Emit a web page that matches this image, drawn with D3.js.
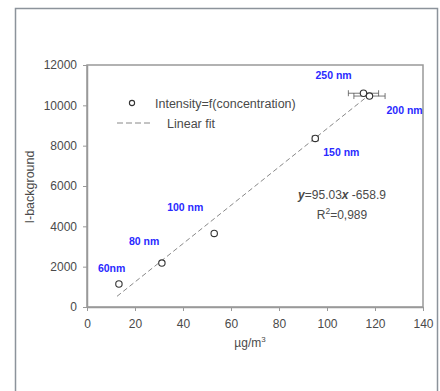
<!DOCTYPE html>
<html>
<head>
<meta charset="utf-8">
<script src="https://cdn.jsdelivr.net/npm/d3@7"></script>
<style>
  body { margin: 0; background: #fff; }
  text { font-family: "Liberation Sans", Arial, sans-serif; }
</style>
</head>
<body>
<div id="chart"></div>
<script>
// data
const sizes = ["60nm", "80 nm", "100 nm", "150 nm", "250 nm", "200 nm"]
const conc = [13.3, 31.2, 53, 95.1, 115.2, 117.7]
const intensity = [1140, 2180, 3650, 8360, 10600, 10460]
const concErr = [0, 0, 0, 1.2, 6.3, 6.5]
const xTicks = [0, 20, 40, 60, 80, 100, 120, 140]
const yTicks = [0, 2000, 4000, 6000, 8000, 10000, 12000]
const fitSlope = 95.03
const fitIntercept = -658.9
const fitRange = [12.5, 117.5]
// label offsets (px) relative to each point
const labelPos = [[-21, -12], [-33, -18], [-47, -22], [8, 18], [-48, -14], [17, 18]]

const W = 440, H = 391
const margin = { left: 87, right: 17, top: 65, bottom: 84 }
const width = W - margin.left - margin.right
const height = H - margin.top - margin.bottom
const fs = "12px"

const svg = d3.select("#chart").append("svg")
    .attr("width", W)
    .attr("height", H)

// outer frame
svg.append("rect")
    .attr("x", 15.5).attr("y", 8.5)
    .attr("width", 422).attr("height", 400)
    .attr("fill", "none")
    .attr("stroke", "#8c939b")
    .attr("stroke-width", 1.5)

const g = svg.append("g")
    .attr("transform", "translate(" + margin.left + "," + margin.top + ")")

const x = d3.scaleLinear().domain([0, 140]).range([0, width])
const y = d3.scaleLinear().domain([0, 12000]).range([height, 0])

// plot box
g.append("rect")
    .attr("width", width).attr("height", height)
    .attr("fill", "none")
    .attr("stroke", "#999")
    .attr("stroke-width", 1.5)

// axes
const xAxis = g.append("g")
    .attr("transform", "translate(0," + height + ")")
    .call(d3.axisBottom(x).tickValues(xTicks).tickFormat(d3.format("d"))
        .tickSize(4).tickSizeOuter(0).tickPadding(8))
const yAxis = g.append("g")
    .call(d3.axisLeft(y).tickValues(yTicks).tickFormat(d3.format("d"))
        .tickSize(4).tickSizeOuter(0).tickPadding(6))
for (const a of [xAxis, yAxis]) {
    a.select(".domain").attr("stroke", "#999").attr("stroke-width", 1.5)
    a.selectAll(".tick line").attr("stroke", "#999")
    a.selectAll(".tick text").attr("fill", "#4a4a4a").attr("font-size", fs)
        .style("font-family", "'Liberation Sans', Arial, sans-serif")
}

// axis labels
const xl = g.append("text")
    .attr("x", 253 - margin.left - 3).attr("y", height + 40)
    .attr("text-anchor", "middle")
    .attr("font-size", fs).attr("fill", "#4a4a4a")
    .text("µg/m")
xl.append("tspan").attr("dy", -5).attr("font-size", "8px").text("3")

g.append("text")
    .attr("transform", "rotate(-90)")
    .attr("x", -(187 - margin.top)).attr("y", -53)
    .attr("text-anchor", "middle")
    .attr("font-size", "12.5px").attr("fill", "#4a4a4a")
    .text("I-background")

// linear fit
const fitLine = d3.line()
    .x((d) => x(d))
    .y((d) => y(fitSlope * d + fitIntercept))
g.append("path")
    .attr("d", fitLine(fitRange))
    .attr("fill", "none")
    .attr("stroke", "#888")
    .attr("stroke-width", 1)
    .attr("stroke-dasharray", "5,3")

const data = sizes.map((s, i) => ({ s, c: conc[i], v: intensity[i], e: concErr[i], lp: labelPos[i] }))

// horizontal error bars
const eb = g.selectAll(".err").data(data.filter((d) => d.e > 0)).enter().append("g")
    .attr("stroke", "#555").attr("stroke-width", 0.8)
eb.append("line")
    .attr("x1", (d) => x(d.c - d.e)).attr("x2", (d) => x(d.c + d.e))
    .attr("y1", (d) => y(d.v)).attr("y2", (d) => y(d.v))
eb.append("line")
    .attr("x1", (d) => x(d.c - d.e)).attr("x2", (d) => x(d.c - d.e))
    .attr("y1", (d) => y(d.v) - 3).attr("y2", (d) => y(d.v) + 3)
eb.append("line")
    .attr("x1", (d) => x(d.c + d.e)).attr("x2", (d) => x(d.c + d.e))
    .attr("y1", (d) => y(d.v) - 3).attr("y2", (d) => y(d.v) + 3)

// points
g.selectAll(".pt").data(data).enter().append("circle")
    .attr("cx", (d) => x(d.c)).attr("cy", (d) => y(d.v))
    .attr("r", 3.2)
    .attr("fill", "#fff")
    .attr("stroke", "#333")
    .attr("stroke-width", 1.1)

// size labels
g.selectAll(".lbl").data(data).enter().append("text")
    .attr("x", (d) => x(d.c) + d.lp[0]).attr("y", (d) => y(d.v) + d.lp[1])
    .attr("font-size", "10.5px").attr("font-weight", "bold")
    .attr("fill", "#2a2aff")
    .text((d) => d.s)

// legend
const leg = g.append("g").attr("transform", "translate(" + (132 - margin.left) + "," + (103 - margin.top) + ")")
leg.append("circle").attr("cx", 0).attr("cy", 0).attr("r", 2.6)
    .attr("fill", "#fff").attr("stroke", "#333").attr("stroke-width", 1.1)
leg.append("text").attr("x", 23).attr("y", 4.5)
    .attr("font-size", "12.5px").attr("fill", "#4a4a4a")
    .text("Intensity=f(concentration)")
leg.append("line").attr("x1", -15).attr("x2", 21).attr("y1", 20).attr("y2", 20)
    .attr("stroke", "#888").attr("stroke-dasharray", "6,3")
leg.append("text").attr("x", 35).attr("y", 24.5)
    .attr("font-size", "12.5px").attr("fill", "#4a4a4a")
    .text("Linear fit")

// equation
const eq = g.append("text")
    .attr("x", 342 - margin.left).attr("y", 199 - margin.top)
    .attr("text-anchor", "middle")
    .attr("font-size", fs).attr("fill", "#4a4a4a")
eq.append("tspan").attr("font-weight", "bold").attr("font-style", "italic").text("y")
eq.append("tspan").text("=" + fitSlope.toFixed(2))
eq.append("tspan").attr("font-weight", "bold").attr("font-style", "italic").text("x")
eq.append("tspan").text(" " + fitIntercept.toFixed(1))

const r2 = g.append("text")
    .attr("x", 342 - margin.left).attr("y", 219 - margin.top)
    .attr("text-anchor", "middle")
    .attr("font-size", fs).attr("fill", "#4a4a4a")
r2.append("tspan").text("R")
r2.append("tspan").attr("dy", -5).attr("font-size", "8.5px").text("2")
r2.append("tspan").attr("dy", 5).text("=0,989")
</script>
</body>
</html>
